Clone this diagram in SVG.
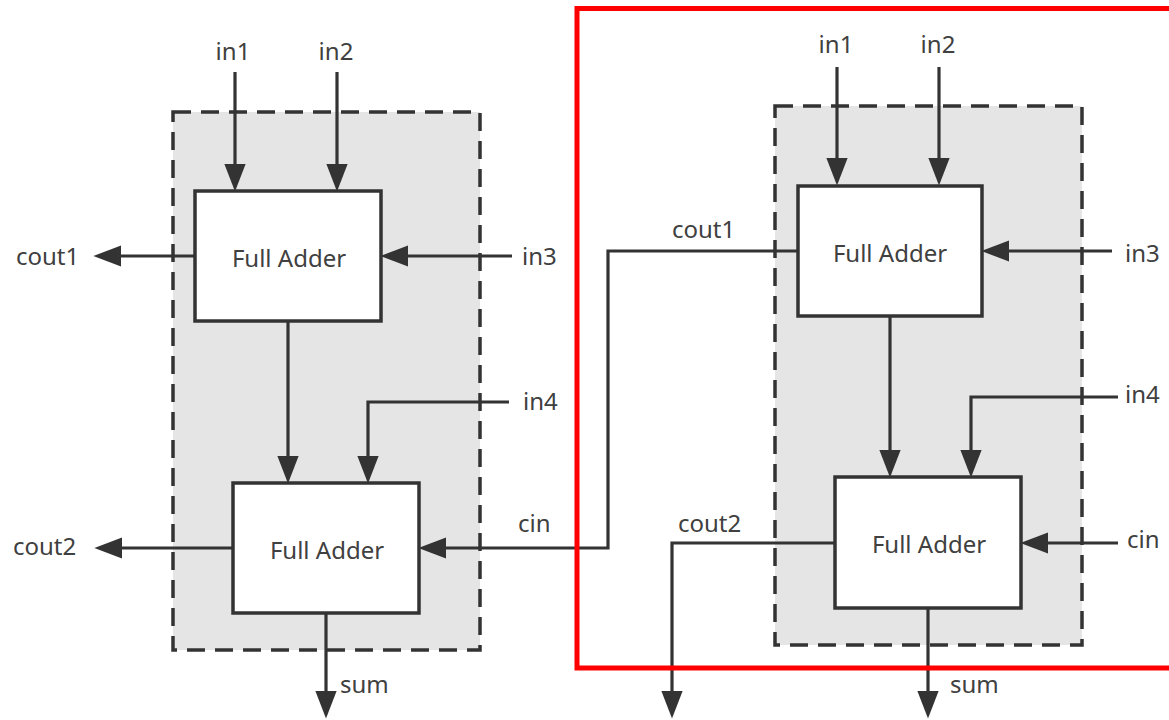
<svg xmlns="http://www.w3.org/2000/svg" width="1169" height="720" viewBox="0 0 1169 720">
<style>
  .bg { fill: #ffffff; }
  .grp { fill: #e5e5e5; stroke: #333333; stroke-width: 3.5; stroke-dasharray: 18 10; }
  .box { fill: #ffffff; stroke: #333333; stroke-width: 3.5; }
  .wire { fill: none; stroke: #333333; stroke-width: 3.2; }
  .arr { marker-end: url(#ah); }
  .lbl { font-family: "Noto Sans", "Open Sans", "Liberation Sans", sans-serif; font-size: 24px; fill: #404040; }
  .mid { text-anchor: middle; }
  .hl { fill: none; stroke: #ff0000; stroke-width: 5; }
</style>
<defs>
  <marker id="ah" markerUnits="userSpaceOnUse" markerWidth="28" markerHeight="22" viewBox="0 0 26 20" refX="18" refY="10" orient="auto">
    <path d="M0,0 L26,10 L0,20 Z" fill="#333333"/>
  </marker>
</defs>
<rect class="bg" x="0" y="0" width="1169" height="720"/>

<g id="group-left">
  <rect class="grp" x="173" y="112" width="307" height="538"/>
</g>
<g id="group-right">
  <rect class="grp" x="775" y="106" width="307" height="539"/>
</g>

<g id="connectors">
  <!-- left unit -->
  <path class="wire arr" d="M235,72 V183"/>
  <path class="wire arr" d="M337,72 V183"/>
  <path class="wire arr" d="M195,256 H102"/>
  <path class="wire arr" d="M512,256 H389"/>
  <path class="wire arr" d="M288,322 V475"/>
  <path class="wire arr" d="M509,402 H368 V475"/>
  <path class="wire arr" d="M233,548 H103"/>
  <path class="wire arr" d="M326,613 V710"/>
  <!-- carry from right unit to left cin -->
  <path class="wire arr" d="M798,251 H608 V548 H427"/>
  <!-- right unit -->
  <path class="wire arr" d="M837,67 V177"/>
  <path class="wire arr" d="M939,67 V177"/>
  <path class="wire arr" d="M1112,251 H990"/>
  <path class="wire arr" d="M890,316 V469"/>
  <path class="wire arr" d="M1118,397 H971 V469"/>
  <path class="wire arr" d="M1118,543 H1029"/>
  <path class="wire arr" d="M835,543 H672 V710"/>
  <path class="wire arr" d="M928,608 V710"/>
</g>

<g id="fa-left-top">
  <rect class="box" x="195" y="191" width="186" height="130"/>
  <text class="lbl mid" x="289" y="267">Full Adder</text>
</g>
<g id="fa-left-bottom">
  <rect class="box" x="233" y="483" width="186" height="130"/>
  <text class="lbl mid" x="327" y="559">Full Adder</text>
</g>
<g id="fa-right-top">
  <rect class="box" x="798" y="186" width="184" height="130"/>
  <text class="lbl mid" x="890" y="262">Full Adder</text>
</g>
<g id="fa-right-bottom">
  <rect class="box" x="835" y="477" width="186" height="131"/>
  <text class="lbl mid" x="929" y="553">Full Adder</text>
</g>

<g id="labels">
  <text class="lbl mid" x="233" y="60">in1</text>
  <text class="lbl mid" x="336" y="60">in2</text>
  <text class="lbl" x="16" y="265">cout1</text>
  <text class="lbl" x="522" y="265">in3</text>
  <text class="lbl" x="523" y="410">in4</text>
  <text class="lbl" x="518" y="532">cin</text>
  <text class="lbl" x="13" y="555">cout2</text>
  <text class="lbl" x="340" y="693">sum</text>

  <text class="lbl mid" x="836" y="53">in1</text>
  <text class="lbl mid" x="938" y="53">in2</text>
  <text class="lbl" x="672" y="238">cout1</text>
  <text class="lbl" x="1125" y="262">in3</text>
  <text class="lbl" x="1125" y="403">in4</text>
  <text class="lbl" x="1127" y="548">cin</text>
  <text class="lbl" x="678" y="532">cout2</text>
  <text class="lbl" x="950" y="693">sum</text>
</g>

<g id="highlight">
  <rect class="hl" x="577" y="8.5" width="600" height="659.5"/>
</g>
</svg>
